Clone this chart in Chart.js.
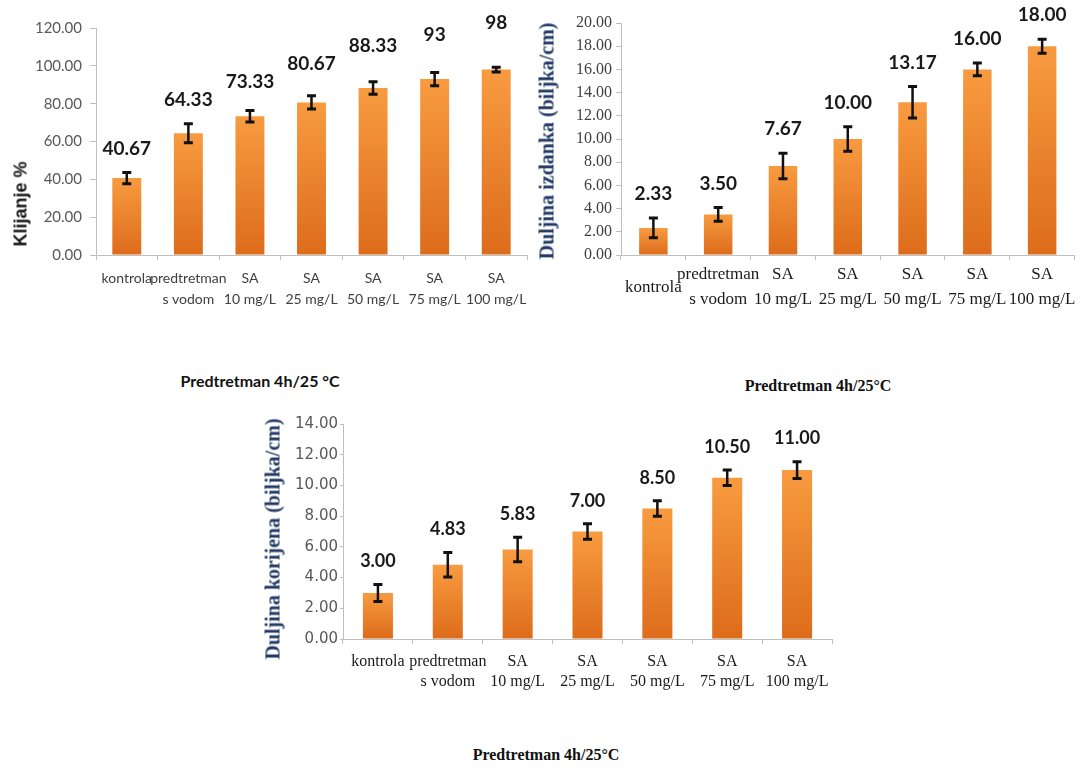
<!DOCTYPE html>
<html>
<head>
<meta charset="utf-8">
<script src="https://cdn.jsdelivr.net/npm/chart.js@4.4.1/dist/chart.umd.min.js"></script>
<style>
  body { margin: 0; background: #fff; width: 1091px; height: 768px; position: relative; overflow: hidden; }
  .box { position: absolute; }
  .ytitle { position: absolute; transform: translate(-50%, -50%) rotate(-90deg); white-space: nowrap; font-weight: bold; }
  .btitle { position: absolute; transform: translate(-50%, -50%); white-space: nowrap; font-weight: bold; color: #111; }
  .narrow { font-family: Lato, "Liberation Sans", sans-serif; }
  .serif { font-family: "Liberation Serif", "DejaVu Serif", serif; }
</style>
</head>
<body>

<div class="box" style="left:0px;top:0px;width:540px;height:325px"><canvas id="chartKlijanje"></canvas></div>
<div class="box" style="left:530px;top:0px;width:561px;height:320px"><canvas id="chartIzdanak"></canvas></div>
<div class="box" style="left:260px;top:400px;width:590px;height:320px"><canvas id="chartKorijen"></canvas></div>

<div class="ytitle" style="left:21px;top:204px;font-family:'Liberation Sans',Arial,sans-serif;font-size:18px;color:#111">Klijanje %</div>
<div class="ytitle serif" style="left:547px;top:141px;font-size:20px;color:#203864">Duljina izdanka (biljka/cm)</div>
<div class="ytitle serif" style="left:273px;top:539px;font-size:20px;color:#203864">Duljina korijena (biljka/cm)</div>

<div class="btitle narrow" style="left:260px;top:380px;font-size:16px">Predtretman 4h/25 °C</div>
<div class="btitle serif" style="left:818px;top:386px;font-size:16px">Predtretman 4h/25°C</div>
<div class="btitle serif" style="left:546px;top:755px;font-size:16px">Predtretman 4h/25°C</div>

<script>
const NARROW = "Lato, 'Liberation Sans', sans-serif";
const SERIF = "'Liberation Serif', 'DejaVu Serif', serif";
const SANS = "'DejaVu Sans', sans-serif";
const AXIS_COLOR = "#BFBFBF";

const CATEGORIES = [
  "kontrola",
  ["predtretman", "s vodom"],
  ["SA", "10 mg/L"],
  ["SA", "25 mg/L"],
  ["SA", "50 mg/L"],
  ["SA", "75 mg/L"],
  ["SA", "100 mg/L"],
];

// klijanje %
const KLIJANJE = [40.67, 64.33, 73.33, 80.67, 88.33, 93, 98];
const KLIJANJE_ERR = [3, 5, 3, 3.5, 3.3, 3.5, 1.3];
const KLIJANJE_TEXT = ["40.67", "64.33", "73.33", "80.67", "88.33", "93", "98"];

// duljina izdanka
const IZDANAK = [2.33, 3.5, 7.67, 10, 13.17, 16, 18];
const IZDANAK_ERR = [0.85, 0.6, 1.1, 1.05, 1.35, 0.55, 0.6];
const IZDANAK_TEXT = ["2.33", "3.50", "7.67", "10.00", "13.17", "16.00", "18.00"];

// duljina korijena
const KORIJEN = [3, 4.83, 5.83, 7, 8.5, 10.5, 11];
const KORIJEN_ERR = [0.55, 0.8, 0.8, 0.5, 0.5, 0.5, 0.55];
const KORIJEN_TEXT = ["3.00", "4.83", "5.83", "7.00", "8.50", "10.50", "11.00"];

function barGradient(ctx) {
  const chart = ctx.chart;
  const y = chart.scales.y;
  if (!chart.chartArea || !y || ctx.raw === undefined) return "#F08A2E";
  const top = y.getPixelForValue(ctx.raw);
  const bottom = y.getPixelForValue(0);
  const g = chart.ctx.createLinearGradient(0, top, 0, bottom);
  g.addColorStop(0, "#F89B40");
  g.addColorStop(1, "#DD6C1B");
  return g;
}

// error bars + value labels above them
function barExtras(errors, texts, font, offset, lift) {
  return {
    id: "barExtras",
    afterDatasetsDraw(chart) {
      const c = chart.ctx;
      const y = chart.scales.y;
      const values = chart.data.datasets[0].data;
      const meta = chart.getDatasetMeta(0);
      c.save();
      meta.data.forEach((bar, i) => {
        const top = y.getPixelForValue(values[i] + errors[i]);
        const bot = y.getPixelForValue(values[i] - errors[i]);
        c.strokeStyle = "#111";
        c.lineWidth = 2.5;
        c.beginPath();
        c.moveTo(bar.x, top);
        c.lineTo(bar.x, bot);
        c.stroke();
        c.lineWidth = 3;
        c.beginPath();
        c.moveTo(bar.x - 4.5, top);
        c.lineTo(bar.x + 4.5, top);
        c.moveTo(bar.x - 4.5, bot);
        c.lineTo(bar.x + 4.5, bot);
        c.stroke();

        let ly = top - offset;
        if (lift) ly = Math.min(ly, y.getPixelForValue(values[i] * lift));
        c.fillStyle = "#1a1a1a";
        c.font = font;
        c.textAlign = "center";
        c.textBaseline = "middle";
        c.fillText(texts[i], bar.x, ly);
      });
      c.restore();
    },
  };
}

function makeChart(id, s) {
  return new Chart(document.getElementById(id), {
    type: "bar",
    data: {
      labels: CATEGORIES,
      datasets: [{
        data: s.values,
        backgroundColor: barGradient,
        borderWidth: 0,
        barPercentage: s.barPct,
        categoryPercentage: 1,
      }],
    },
    options: {
      responsive: true,
      maintainAspectRatio: false,
      animation: false,
      layout: { padding: s.padding },
      plugins: { legend: { display: false }, tooltip: { enabled: false } },
      scales: {
        x: {
          grid: { drawOnChartArea: false, drawTicks: true, tickLength: 5, color: AXIS_COLOR },
          border: { display: true, color: AXIS_COLOR },
          ticks: {
            autoSkip: false, maxRotation: 0, color: s.xColor,
            padding: s.xPad, crossAlign: s.crossAlign || "near",
            font: s.xFont,
          },
          afterFit: (scale) => { scale.height = s.xHeight; },
        },
        y: {
          min: 0, max: s.max,
          grid: { drawOnChartArea: false, drawTicks: true, tickLength: s.yTick, color: AXIS_COLOR },
          border: { display: true, color: AXIS_COLOR },
          ticks: {
            stepSize: s.step, autoSkip: false, color: s.yColor, padding: s.yPad,
            font: s.yFont,
            callback: (v) => Number(v).toFixed(2),
          },
          afterFit: (scale) => { scale.width = s.yWidth; },
        },
      },
    },
    plugins: [barExtras(s.errors, s.texts, s.labelFont, s.labelOffset, s.lift)],
  });
}

makeChart("chartKlijanje", {
  values: KLIJANJE, errors: KLIJANJE_ERR, texts: KLIJANJE_TEXT,
  max: 120, step: 20, barPct: 0.47,
  padding: { top: 28, right: 13, bottom: 10, left: 0 },
  yWidth: 96, xHeight: 60, yTick: 6, yPad: 8, xPad: 8,
  yFont: { family: NARROW, size: 15 }, yColor: "#595959",
  xFont: { family: NARROW, size: 14, lineHeight: 1.5 }, xColor: "#404040",
  labelFont: "bold 19px " + NARROW, labelOffset: 24, lift: 1.25,
});

makeChart("chartIzdanak", {
  values: IZDANAK, errors: IZDANAK_ERR, texts: IZDANAK_TEXT,
  max: 20, step: 2, barPct: 0.44,
  padding: { top: 23, right: 8, bottom: 10, left: 0 },
  yWidth: 91, xHeight: 55, yTick: 5, yPad: 4, xPad: 15, crossAlign: "center",
  yFont: { family: SERIF, size: 16 }, yColor: "#404040",
  xFont: { family: SERIF, size: 17, lineHeight: 1.45 }, xColor: "#1a1a1a",
  labelFont: "bold 19px " + NARROW, labelOffset: 24,
});

makeChart("chartKorijen", {
  values: KORIJEN, errors: KORIJEN_ERR, texts: KORIJEN_TEXT,
  max: 14, step: 2, barPct: 0.43,
  padding: { top: 24, right: 18, bottom: 21, left: 0 },
  yWidth: 83, xHeight: 60, yTick: 3, yPad: 2, xPad: 8,
  yFont: { family: SANS, size: 15 }, yColor: "#595959",
  xFont: { family: SERIF, size: 16, lineHeight: 1.25 }, xColor: "#1a1a1a",
  labelFont: "bold 18px " + NARROW, labelOffset: 23,
});
</script>
</body>
</html>
